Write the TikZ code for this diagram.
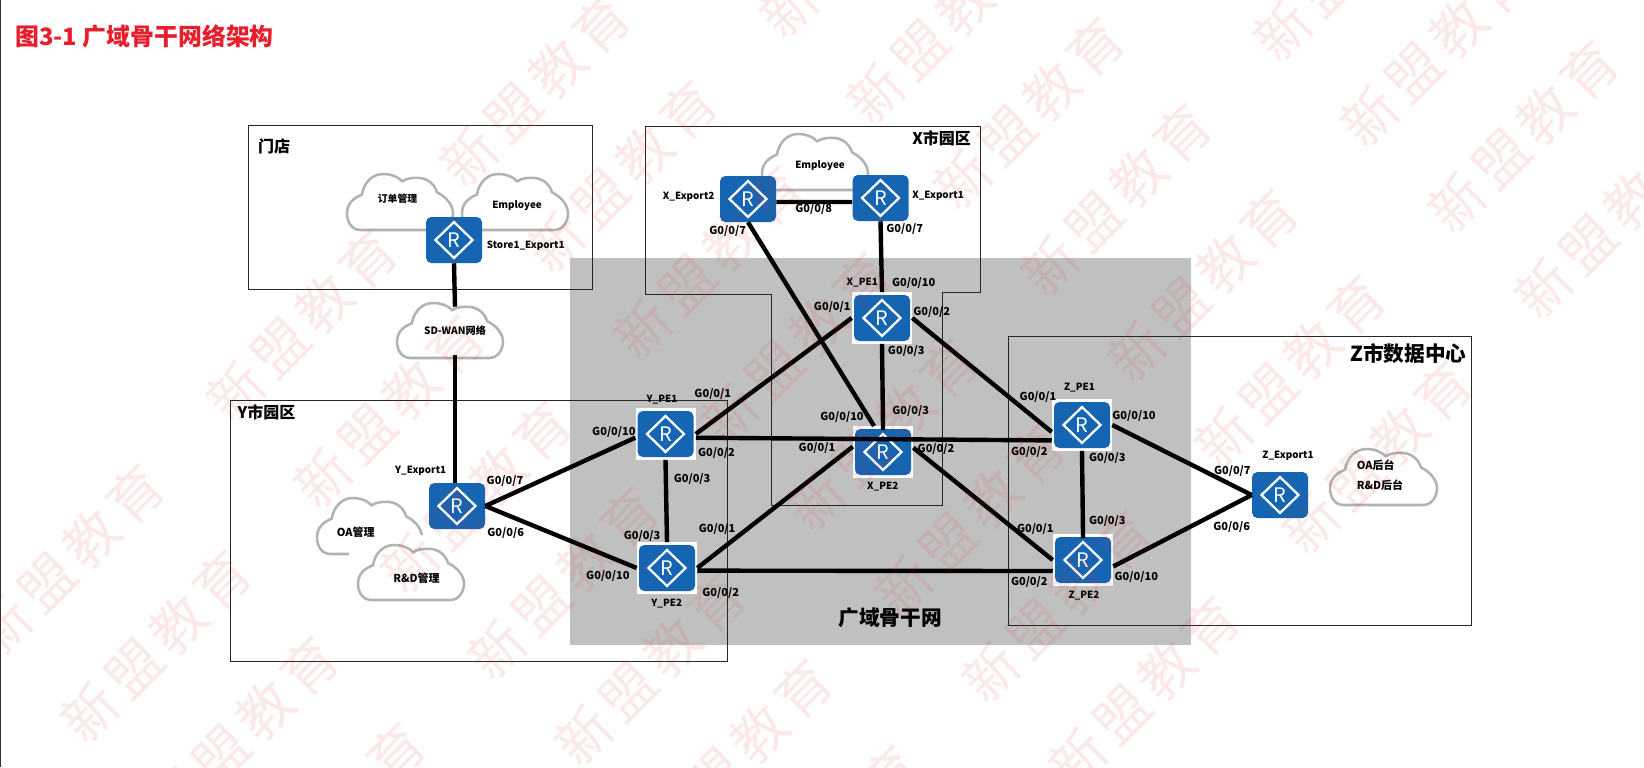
\documentclass[tikz,border=0pt]{standalone}
\usepackage{fontspec}
\setmainfont{Noto Sans CJK SC}
\newfontfamily\wmfont[LetterSpace=14]{Noto Sans CJK SC}
\usepackage{tikz}

\definecolor{routerblue}{RGB}{22,101,178}
\definecolor{wangray}{RGB}{192,192,192}
\definecolor{titlered}{RGB}{232,30,45}
\definecolor{wmred}{RGB}{225,45,55}

\tikzset{
  zone/.style={draw=black!85,line width=0.6pt},
  link/.style={line width=3.3pt,black},
  port/.style={font=\bfseries\fontsize{8.25pt}{10pt}\selectfont,inner sep=0pt},
  devname/.style={font=\bfseries\fontsize{7.4pt}{9pt}\selectfont,inner sep=0pt},
  zonetext/.style={font=\bfseries\fontsize{12pt}{14pt}\selectfont,inner sep=0pt},
  cloudbody/.style={font=\bfseries\fontsize{7.6pt}{9pt}\selectfont,inner sep=0pt,minimum width=60pt,minimum height=36pt},
  router/.style={minimum width=42pt,minimum height=34.5pt,inner sep=0pt,text=white,
    font=\fontsize{15pt}{17pt}\selectfont,
    path picture={
      \fill[routerblue,rounded corners=4pt]
        ([shift={(-28,-23)}]path picture bounding box.center) rectangle
        ([shift={(28,23)}]path picture bounding box.center);
      \draw[white,line width=1.7pt]
        ([shift={(-18.5,0)}]path picture bounding box.center) --
        ([shift={(0,-18)}]path picture bounding box.center) --
        ([shift={(18.5,0)}]path picture bounding box.center) --
        ([shift={(0,18)}]path picture bounding box.center) -- cycle;
    }},
  perouter/.style={router,fill=white,minimum width=45pt,minimum height=38.5pt},
  wmark/.style={font=\wmfont\fontsize{41pt}{44pt}\selectfont,inner sep=0pt,rotate=45,
    text=wmred,text opacity=0.1},
  cloudicon/.pic={
    \draw[black!30,line width=1.9pt]
      (13,100) .. controls (4,100) and (0,85) .. (0,70)
      .. controls (0,52) and (7,42) .. (14,37)
      .. controls (16,15) and (24,0) .. (34,0)
      .. controls (42,0) and (48,5) .. (52,13)
      .. controls (56,8) and (62,6) .. (68,7)
      .. controls (77,8) and (83,20) .. (85,33)
      .. controls (93,40) and (100,55) .. (100,70)
      .. controls (100,85) and (95,100) .. (87,100) -- cycle;
  }
}

\begin{document}
\begin{tikzpicture}[x=0.75pt,y=-0.75pt]
  \useasboundingbox (0,0) rectangle (1644,767);
  \fill[white] (0,0) rectangle (1644,767);
  \draw[black!80,line width=1pt] (0.5,0) -- (0.5,767);

  \fill[wangray] (570,258) rectangle (1191,645);

  \draw[zone] (248,125) rectangle (592,289);
  \draw[zone] (645,126) -- (980,126) -- (980,292) -- (942,292) -- (942,505)
    -- (771,505) -- (771,294) -- (645,294) -- cycle;
  \draw[zone] (230,400) rectangle (727.5,661);
  \draw[zone] (1008,336) rectangle (1471,625);

  \pic[xscale=1.06,yscale=0.56] at (347,174) {cloudicon};
  \pic[xscale=1.06,yscale=0.56] at (462,174) {cloudicon};
  \pic[xscale=1.06,yscale=0.56] at (762,134) {cloudicon};
  \pic[xscale=1.06,yscale=0.55] at (397,303) {cloudicon};
  \begin{scope}
    \clip (310,490) -- (430,490) -- (430,535) -- (349,535) -- (349,560) -- (310,560) -- cycle;
    \pic[xscale=1.05,yscale=0.56] at (317,498) {cloudicon};
  \end{scope}
  \pic[xscale=1.06,yscale=0.55] at (358,545) {cloudicon};
  \pic[xscale=1.07,yscale=0.56] at (1330,449) {cloudicon};

  \node [cloudbody] (sdwan) at (455,331) {SD-WAN网络};

  \node [router] (store1) at (454,240) {R};
  \node [router] (xex2) at (748,199) {R};
  \node [router] (xex1) at (880.5,198) {R};
  \node [router] (yex1) at (457,506) {R};
  \node [router] (zex1) at (1280,495) {R};
  \node [perouter] (xpe1) at (882,318) {R};
  \node [perouter] (xpe2) at (883,452) {R};
  \node [perouter] (ype1) at (665.5,434) {R};
  \node [perouter] (ype2) at (667,568) {R};
  \node [perouter] (zpe1) at (1082,425) {R};
  \node [perouter] (zpe2) at (1083,560) {R};

  \path[link] (store1.south) edge (sdwan.north);
  \path[link] (sdwan.south) edge (sdwan.south |- yex1.north);
  \path[link] (xex2.-6) edge (xex1.188);
  \path[link] (xex1.south) edge (xpe1.north);
  \path[link] (xex2.south) edge (xpe2.109);
  \path[link,shorten >=-3pt] (xpe1.south) edge (xpe2.north);
  \path[link] (xpe1.west) edge (ype1.east);
  \path[link] (xpe1.east) edge (zpe1.193);
  \path[link] (xpe2.170) edge (ype2.east);
  \path[link] (xpe2.8) edge (zpe2.west);
  \path[link] (yex1.east) edge (ype1.187);
  \path[link] (yex1.east) edge (ype2.west);
  \path[link] (ype1.south) edge (ype2.north);
  \path[link] (ype1.-7) edge (zpe1.207);
  \path[link] (ype2.-5) edge (zpe2.200);
  \path[link,shorten >=-3pt] (zpe1.south) edge (zpe2.north);
  \path[link] (zpe1.east) edge (zex1.west);
  \path[link] (zpe2.-12) edge (zex1.west);

  \node [font=\bfseries\fontsize{17.9pt}{20pt}\selectfont,text=titlered,inner sep=0pt] (title) at (144.5,36.7) {图3-1 广域骨干网络架构};
  \node [zonetext] (storezone) at (274,146.7) {门店};
  \node [zonetext] (xzone) at (941.7,138.3) {X市园区};
  \node [zonetext] (yzone) at (266.4,412.7) {Y市园区};
  \node [font=\bfseries\fontsize{15.5pt}{18pt}\selectfont,inner sep=0pt] (wanzone) at (890,617.7) {广域骨干网};
  \node [font=\bfseries\fontsize{15.5pt}{18pt}\selectfont,inner sep=0pt] (zzone) at (1408.3,353.3) {Z市数据中心};

  \node [devname] (ordertext) at (397.5,198.7) {订单管理};
  \node [devname] (emptext1) at (517,205.7) {Employee};
  \node [devname] (emptext2) at (820,166) {Employee};
  \node [port] (oatext) at (355.7,532.7) {OA管理};
  \node [port] (rdtext) at (416.4,578.3) {R\&D管理};
  \node [port] (oabtext) at (1375.7,465) {OA后台};
  \node [port] (rdbtext) at (1380,485) {R\&D后台};

  \node [devname] (store1name) at (525.7,245.7) {Store1\_Export1};
  \node [devname] (xex2name) at (688.7,197.3) {X\_Export2};
  \node [devname] (xex1name) at (938,196.3) {X\_Export1};
  \node [devname] (yex1name) at (420.7,471) {Y\_Export1};
  \node [devname] (zex1name) at (1288,455.7) {Z\_Export1};
  \node [devname] (xpe1name) at (862.3,283) {X\_PE1};
  \node [devname] (xpe2name) at (882.7,486.7) {X\_PE2};
  \node [devname] (ype1name) at (662,400) {Y\_PE1};
  \node [devname] (ype2name) at (666.8,603.3) {Y\_PE2};
  \node [devname] (zpe1name) at (1079.5,387.7) {Z\_PE1};
  \node [devname] (zpe2name) at (1084,595.7) {Z\_PE2};

  \node [port] (xexlink) at (813.7,209.3) {G0/0/8};
  \node [port] (xex2p7) at (727.7,230.7) {G0/0/7};
  \node [port] (xex1p7) at (904.7,229) {G0/0/7};
  \node [port] (xpe1p10) at (913.7,283) {G0/0/10};
  \node [port] (xpe1p1) at (832.3,307) {G0/0/1};
  \node [port] (xpe1p2) at (931.7,312.3) {G0/0/2};
  \node [port] (xpe1p3) at (906.3,351.3) {G0/0/3};
  \node [port] (xpe2p10) at (842,417) {G0/0/10};
  \node [port] (xpe2p3) at (910.7,411) {G0/0/3};
  \node [port] (xpe2p1) at (817,448.3) {G0/0/1};
  \node [port] (xpe2p2) at (936,449.3) {G0/0/2};

  \node [port] (yex1p7) at (505,481.3) {G0/0/7};
  \node [port] (yex1p6) at (505.7,532.7) {G0/0/6};
  \node [port] (ype1p1) at (712.8,394) {G0/0/1};
  \node [port] (ype1p10) at (613.9,432) {G0/0/10};
  \node [port] (ype1p2) at (716.4,452.7) {G0/0/2};
  \node [port] (ype1p3) at (692.1,479.3) {G0/0/3};
  \node [port] (ype2p3) at (642.1,536) {G0/0/3};
  \node [port] (ype2p1) at (717.1,529.3) {G0/0/1};
  \node [port] (ype2p10) at (607.9,575.7) {G0/0/10};
  \node [port] (ype2p2) at (720.7,593) {G0/0/2};

  \node [port] (zpe1p1) at (1038,397.3) {G0/0/1};
  \node [port] (zpe1p10) at (1134,416.3) {G0/0/10};
  \node [port] (zpe1p2) at (1029.3,452) {G0/0/2};
  \node [port] (zpe1p3) at (1107.3,458) {G0/0/3};
  \node [port] (zpe2p3) at (1107.3,521.3) {G0/0/3};
  \node [port] (zpe2p1) at (1035.3,529) {G0/0/1};
  \node [port] (zpe2p2) at (1029.3,582) {G0/0/2};
  \node [port] (zpe2p10) at (1136.3,577.3) {G0/0/10};
  \node [port] (zex1p7) at (1232.3,471.3) {G0/0/7};
  \node [port] (zex1p6) at (1231.7,527.3) {G0/0/6};

  % watermark rows
  \foreach \b/\alist in {-2/{4,5,6,7},-1/{2,3,4,5,6,7,8},0/{0,1,2,3,4,5,6,7},1/{-1,0,1,2,3,4,5},2/{0,1,2,3}}
    \foreach \a in \alist
      \node [wmark] (wm\b\a) at ({535+87*\a+407*\b},{90+86*\a-63*\b}) {新盟教育};
\end{tikzpicture}
\end{document}
